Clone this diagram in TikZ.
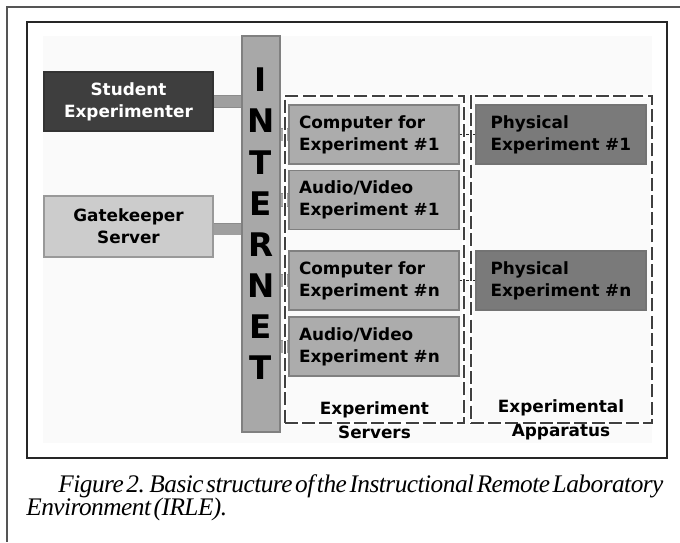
\documentclass[tikz,border=0pt]{standalone}
\usepackage{fontspec}
\usepackage{tikz}
\usetikzlibrary{fit,positioning}
\newfontfamily\diagfont{DejaVu Sans}
\newfontfamily\capfont{Liberation Serif}[WordSpace=0.45,LetterSpace=-2]
\definecolor{PageRule}{RGB}{85,85,85}
\definecolor{PanelBg}{RGB}{250,250,250}
\definecolor{UserFill}{RGB}{62,62,62}
\definecolor{KeeperFill}{RGB}{204,204,204}
\definecolor{NetFill}{RGB}{168,168,168}
\definecolor{ServerFill}{RGB}{172,172,172}
\definecolor{RigFill}{RGB}{122,122,122}
\definecolor{EdgeGray}{RGB}{128,128,128}
\newcommand{\pw}[1]{#1*0.02cm}

\begin{document}
\begin{tikzpicture}[x=0.02cm,y=-0.02cm,
  box/.style={draw=EdgeGray,line width=0.6pt,inner sep=0pt,
    font=\diagfont\bfseries\fontsize{9.6}{12.4}\selectfont},
  userbox/.style={box,fill=UserFill,draw=black!80,text=white,align=center,
    minimum width=\pw{169},minimum height=\pw{59}},
  keeperbox/.style={box,fill=KeeperFill,draw=black!40,align=center,
    minimum width=\pw{169},minimum height=\pw{61}},
  serverbox/.style={box,fill=ServerFill,align=left,text width=\pw{150},
    minimum width=\pw{170},minimum height=\pw{59}},
  rigbox/.style={box,fill=RigFill,draw=black!55,align=left,text width=\pw{141},
    minimum width=\pw{170},minimum height=\pw{59}},
  groupbox/.style={draw=black!75,line width=0.8pt,dash pattern=on 7.4pt off 2.4pt,
    preaction={draw=white,solid,line width=2.6pt},inner sep=0pt},
  grouplabel/.style={font=\diagfont\bfseries\fontsize{9.6}{13.4}\selectfont,align=center},
  netletter/.style={font=\diagfont\bfseries\fontsize{18.5}{18.5}\selectfont},
  netlink/.style={draw=black!45,line width=0.5pt,double=NetFill!110,double distance=\pw{11}},
  stublink/.style={draw=black!45,line width=0.5pt,double=NetFill,double distance=\pw{12}},
  rigline/.style={draw=black!85,line width=0.9pt},
  captext/.style={anchor=base west,inner sep=0pt,font=\capfont\itshape\fontsize{14.4}{16}\selectfont}
]
  \useasboundingbox (0,0) rectangle (680,542);
  % page rules and the figure frame
  \draw[PageRule,line width=0.6pt] (680,7) -- (7,7) -- (7,542);
  \draw[black!85,line width=0.6pt] (27,22) rectangle (667,458);
  \fill[PanelBg] (43,36) rectangle (652,443);

  % the network column
  \node[box,fill=NetFill,minimum width=\pw{38},minimum height=\pw{396}] (inet) at (261,234) {};
  \foreach \ch [count=\i] in {I,N,T,E,R,N,E,T}
    \node[netletter] (let\i) at (261,{80+41.1*(\i-1)}) {\ch};

  % users on the left
  \node[userbox] (student) at (128.5,101.5) {Student\\Experimenter};
  \node[keeperbox] (keeper) at (128.5,226.5) {Gatekeeper\\Server};
  \draw[netlink] (student.east) -- (student.east -| inet.west);
  \draw[netlink] ([yshift=\pw{-2.5}]keeper.east) -- ([yshift=\pw{-2.5}]keeper.east -| inet.west);

  % experiment servers
  \node[serverbox] (comp1) at (374,134.5) {Computer for\\Experiment \#1};
  \node[serverbox] (av1) at (374,200) {Audio/Video\\Experiment \#1};
  \node[serverbox] (compn) at (374,280.5) {Computer for\\Experiment \#n};
  \node[serverbox] (avn) at (374,346.5) {Audio/Video\\Experiment \#n};
  \foreach \s in {comp1,av1,compn,avn}
    \draw[stublink] (\s.west -| inet.east) -- (\s.west);

  % experimental apparatus
  \node[rigbox] (phys1) at (561,134.5) {Physical\\Experiment \#1};
  \node[rigbox] (physn) at (561,280.5) {Physical\\Experiment \#n};
  \draw[rigline] (comp1.east) -- (phys1.west);
  \draw[rigline] (compn.east) -- (physn.west);

  % dashed groups
  \node[groupbox,fit={(285,96) (464,423)}] (servers) {};
  \node[groupbox,fit={(471,96) (652,423)}] (apparatus) {};
  \node[grouplabel] (serverslbl) at (374.5,420) {Experiment\\Servers};
  \node[grouplabel] (apparatuslbl) at (561,420) {Experimental\\Apparatus};

  % caption
  \node[captext] (cap1) at (58,492) {Figure 2. Basic structure of the Instructional Remote Laboratory};
  \node[captext] (cap2) at (26,515) {Environment (IRLE).};
\end{tikzpicture}
\end{document}
